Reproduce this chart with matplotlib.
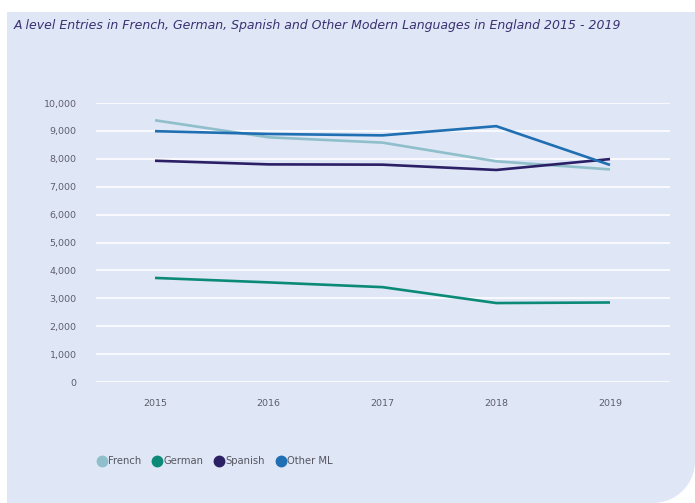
import numpy as np
import matplotlib
matplotlib.use('Agg')
import matplotlib.pyplot as plt
from matplotlib.patches import Polygon
from matplotlib.lines import Line2D

# data
years = [2015, 2016, 2017, 2018, 2019]
french = [9380, 8770, 8580, 7910, 7620]
german = [3730, 3570, 3400, 2830, 2850]
spanish = [7930, 7800, 7790, 7600, 7990]
other_ml = [8990, 8890, 8840, 9170, 7780]
series_names = ['French', 'German', 'Spanish', 'Other ML']
y_ticks = [0, 1000, 2000, 3000, 4000, 5000, 6000, 7000, 8000, 9000, 10000]

colors = ['#8fbfca', '#0b8a78', '#2b1f66', '#1f6fb2']
bg = '#dfe6f6'

W, H = 695, 503
fig = plt.figure(figsize=(W / 100, H / 100), dpi=100)
fig.patch.set_facecolor('white')

# panel with rounded bottom right corner (pixel coords -> figure fraction)
r = 42
ang = np.linspace(0, np.pi / 2, 25)
x0, y0 = 7, 12
pts = [(x0, y0), (W + 5, y0)]
cx, cy = W - r, H - r
for a in ang:
    pts.append((cx + r * np.cos(a), cy + r * np.sin(a)))
pts.append((x0, H + 5))
pts = [(px / W, 1 - py / H) for px, py in pts]
fig.patches.append(Polygon(pts, closed=True, transform=fig.transFigure,
                           facecolor=bg, edgecolor='none', zorder=-5))

fig.text(14 / W, 1 - 25 / H,
         'A level Entries in French, German, Spanish and Other Modern Languages in England 2015 - 2019',
         fontsize=9.0, style='italic', color='#3a3172', va='center', ha='left')

left, right = 96 / W, 670 / W
top, bottom = 1 - 103 / H, 1 - 382 / H
ax = fig.add_axes([left, bottom, right - left, top - bottom])
ax.set_facecolor('none')
ax.set_zorder(2)

all_vals = [french, german, spanish, other_ml]
for vals, c, name in zip(all_vals, colors, series_names):
    ax.plot(years, vals, color=c, lw=1.9, label=name, solid_capstyle='butt', clip_on=False, zorder=3)

ax.set_ylim(0, 10000)
ax.set_xlim(2015 - 59 / 113.75, 2019 + 60 / 113.75)
ax.set_yticks(y_ticks)
ax.set_yticklabels(['{:,}'.format(v) for v in y_ticks])
ax.set_xticks(years)
ax.set_xticklabels([str(y) for y in years])
ax.grid(axis='y', color='white', lw=1.1, zorder=1)
ax.set_axisbelow(True)
for s in ax.spines.values():
    s.set_visible(False)
ax.tick_params(length=0, labelsize=6.8, colors='#5e5e6a')
ax.tick_params(axis='y', pad=14)
ax.tick_params(axis='x', pad=12)

handles = [Line2D([], [], ls='none', marker='o', markersize=7.5, color=c) for c in colors]
fig.legend(handles, series_names, loc='center left', bbox_to_anchor=(88 / W, 1 - 461 / H),
           frameon=False, ncol=4, fontsize=7.2, handletextpad=0.1, columnspacing=1.1,
           labelcolor='#55555f', handlelength=1.0)

fig.savefig('out.png', dpi=100, facecolor='white')
